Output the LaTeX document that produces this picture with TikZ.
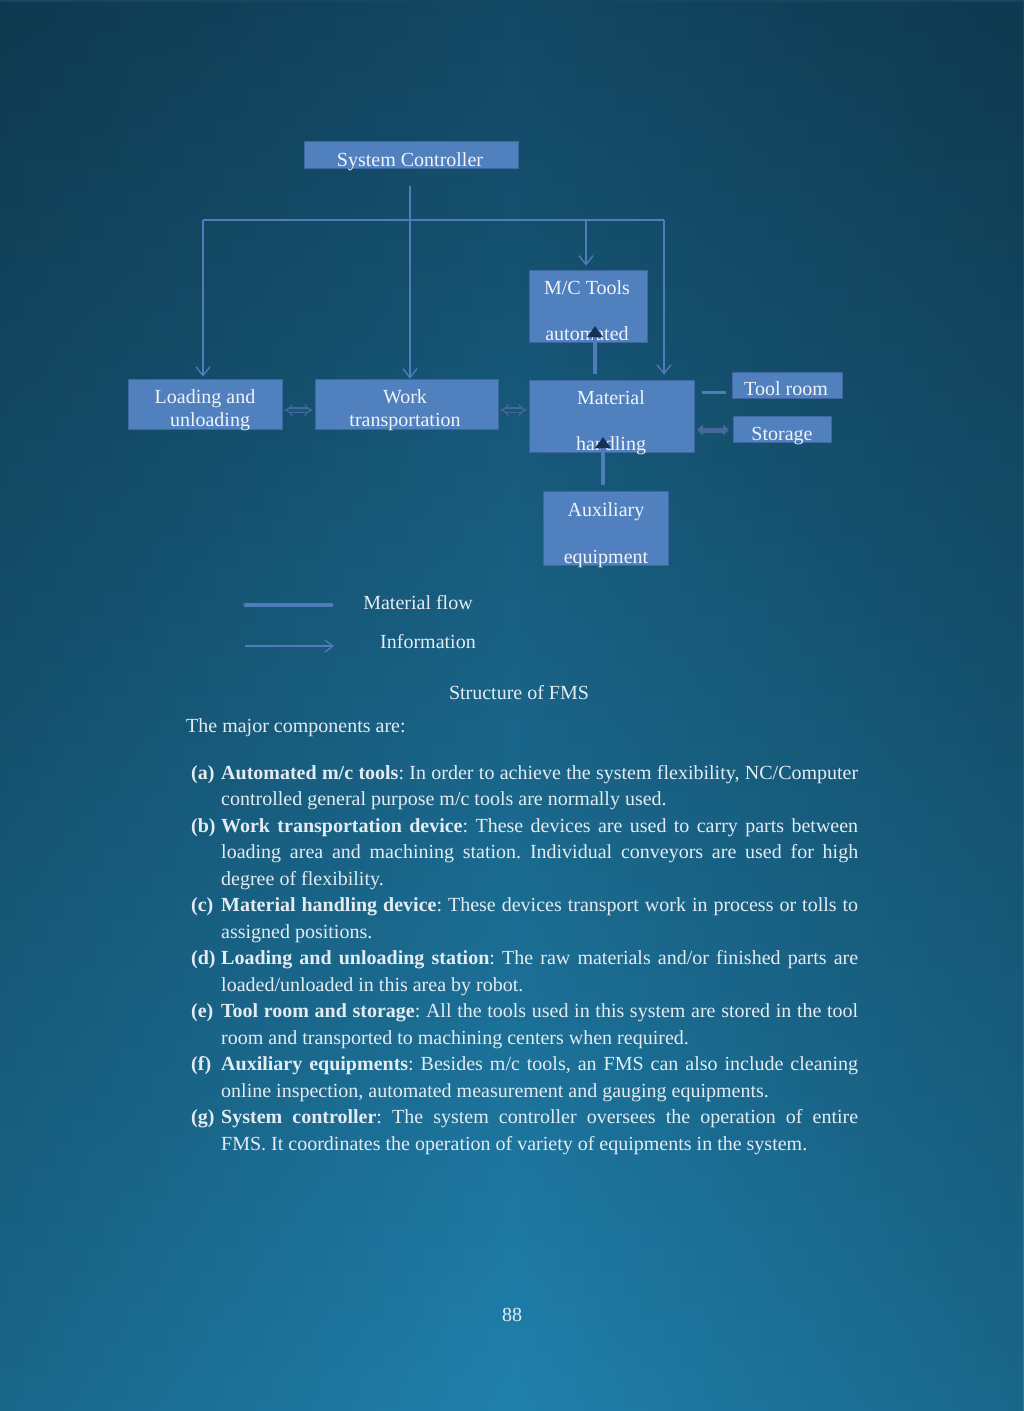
\documentclass[tikz,border=0pt]{standalone}
\usepackage{fontspec}
\setmainfont{Liberation Serif}
\frenchspacing
\usetikzlibrary{arrows.meta,fadings}
\definecolor{bgtop}{RGB}{19,72,100}
\definecolor{bgmid}{RGB}{22,88,122}
\definecolor{bgbot}{RGB}{32,128,172}
\definecolor{boxfill}{RGB}{80,128,190}
\definecolor{boxline}{RGB}{62,102,160}
\definecolor{conn}{RGB}{80,124,186}
\definecolor{txt}{RGB}{240,244,248}
\definecolor{bodytxt}{RGB}{228,236,242}
\definecolor{darktip}{RGB}{22,50,82}
\definecolor{flowc}{RGB}{66,104,156}
\tikzfading[name=sidefade, left color=transparent!0, right color=transparent!0, middle color=transparent!100]
\tikzset{
  box/.style={draw=boxline, line width=0.6pt, fill=boxfill, rectangle, inner sep=0pt},
  btext/.style={text=txt, font=\fontsize{20pt}{24pt}\selectfont, inner sep=0pt, anchor=mid, yshift=-5pt},
  body/.style={text=bodytxt, font=\fontsize{20pt}{26pt}\selectfont, inner sep=0pt, anchor=mid west, yshift=-5pt},
  info/.style={draw=conn, line width=1.3pt, -{Straight Barb[length=9pt,width=14pt,line width=1.3pt]}},
  bus/.style={draw=conn, line width=1.3pt},
  thickarrow/.style={draw=conn, line width=4pt, -{Triangle[length=11pt,width=15pt,color=darktip]}},
  hollowflow/.style={draw=flowc, line width=1.2pt, double=bgmid, double distance=3pt, {Implies}-{Implies}},
  solidflow/.style={draw=flowc, line width=5pt, {Triangle[length=6pt,width=11pt]}-{Triangle[length=6pt,width=11pt]}},
  plainflow/.style={draw=conn, line width=3pt},
  legendflow/.style={draw=conn, line width=3.5pt, {Triangle[length=3pt,width=5pt]}-{Triangle[length=3pt,width=5pt]}},
}
\begin{document}
\begin{tikzpicture}[x=1pt,y=-1pt]
% background
\begin{scope}[y=1pt]
  \shade[top color=bgtop, middle color=bgmid, bottom color=bgbot] (0,-1411) rectangle (1024,0);
  \fill[black, path fading=sidefade, fill opacity=0.2] (0,-1411) rectangle (1024,0);
\end{scope}
\useasboundingbox (0,0) rectangle (1024,1411);

% boxes
\node[box, minimum width=214pt, minimum height=27pt] (sc) at (411,154.5) {};
\node[box, minimum width=154pt, minimum height=50pt] (lu) at (205,404) {};
\node[box, minimum width=183pt, minimum height=50pt] (wt) at (406.5,404) {};
\node[box, minimum width=118pt, minimum height=72pt] (mc) at (588,306) {};
\node[box, minimum width=165pt, minimum height=72pt] (mh) at (611.5,416) {};
\node[box, minimum width=110pt, minimum height=26pt] (tr) at (787,385) {};
\node[box, minimum width=98pt, minimum height=26pt] (st) at (782,429) {};
\node[box, minimum width=125pt, minimum height=74pt] (ax) at (605.5,528) {};

% box texts
\node[btext] (sct) at (410,159) {System Controller};
\node[btext] (lut1) at (205,396) {Loading and};
\node[btext] (lut2) at (210,419) {unloading};
\node[btext] (wtt1) at (405,396) {Work};
\node[btext] (wtt2) at (405,419) {transportation};
\node[btext] (mct1) at (587,287) {M/C Tools};
\node[btext] (mct2) at (587,333) {automated};
\node[btext] (mht1) at (611,397) {Material};
\node[btext] (mht2) at (611,443) {handling};
\node[btext] (trt) at (786,388) {Tool room};
\node[btext] (stt) at (782,433) {Storage};
\node[btext] (axt1) at (606,509) {Auxiliary};
\node[btext] (axt2) at (606,556) {equipment};

% information lines
\coordinate (scout) at (410,186);
\coordinate (busL) at (203,220);
\coordinate (busM) at (586,220);
\coordinate (busR) at (664,220);
\draw[info] (scout) -- (scout |- wt.north);
\draw[bus] (busL) -- (busR);
\draw[info] (busL) -- ([yshift=2pt]busL |- lu.north);
\draw[info] (busM) -- ([yshift=4pt]busM |- mc.north);
\draw[info] (busR) -- ([yshift=5pt]busR |- mh.north);

% material flow
\draw[hollowflow] ([yshift=-6pt,xshift=2pt]lu.east) -- ([yshift=-6pt,xshift=-2pt]wt.west);
\draw[hollowflow] ([yshift=-6pt,xshift=2pt]wt.east) -- ([yshift=-6pt,xshift=-2pt]mh.west |- wt.east);
\coordinate (mhout) at (595,374);
\coordinate (mcin) at (595,326);
\draw[thickarrow] (mhout) -- (mcin);
\coordinate (axout) at (603,485);
\coordinate (mhin) at (603,437);
\draw[thickarrow] (axout) -- (mhin);
\coordinate (trL) at (702,392);
\coordinate (trR) at (726,392);
\draw[plainflow] (trL) -- (trR);
\coordinate (stL) at (697,430);
\coordinate (stR) at (729,430);
\draw[solidflow] (stL) -- (stR);

% legend
\coordinate (lg1a) at (243,605);
\coordinate (lg1b) at (334,605);
\draw[legendflow] (lg1a) -- (lg1b);
\node[btext, text=bodytxt] (lgt1) at (418,602) {Material flow};
\coordinate (lg2a) at (245,646);
\coordinate (lg2b) at (334,646);
\draw[info, -{Straight Barb[length=8pt,width=12pt,line width=1.3pt]}] (lg2a) -- (lg2b);
\node[btext, text=bodytxt] (lgt2) at (428,641) {Information};

% caption and text
\node[btext, text=bodytxt] (cap) at (519,692) {Structure of FMS};
\node[body] (intro) at (186,725) {The major components are:};

\node[body] (la) at (191,772) {\textbf{(a)}};
\node[body] (a1) at (221,772) {\makebox[637pt][s]{\textbf{Automated m/c tools}: In order to achieve the system flexibility, NC/Computer}};
\node[body] (a2) at (221,798.5) {controlled general purpose m/c tools are normally used.};

\node[body] (lb) at (191,825) {\textbf{(b)}};
\node[body] (b1) at (221,825) {\makebox[637pt][s]{\textbf{Work transportation device}: These devices are used to carry parts between}};
\node[body] (b2) at (221,851.5) {\makebox[637pt][s]{loading area and machining station. Individual conveyors are used for high}};
\node[body] (b3) at (221,878) {degree of flexibility.};

\node[body] (lc) at (191,904.5) {\textbf{(c)}};
\node[body] (c1) at (221,904.5) {\makebox[637pt][s]{\textbf{Material handling device}: These devices transport work in process or tolls to}};
\node[body] (c2) at (221,931) {assigned positions.};

\node[body] (ld) at (191,957.5) {\textbf{(d)}};
\node[body] (d1) at (221,957.5) {\makebox[637pt][s]{\textbf{Loading and unloading station}: The raw materials and/or finished parts are}};
\node[body] (d2) at (221,984) {loaded/unloaded in this area by robot.};

\node[body] (le) at (191,1010.5) {\textbf{(e)}};
\node[body] (e1) at (221,1010.5) {\makebox[637pt][s]{\textbf{Tool room and storage}: All the tools used in this system are stored in the tool}};
\node[body] (e2) at (221,1037) {room and transported to machining centers when required.};

\node[body] (lf) at (191,1063.5) {\textbf{(f)}};
\node[body] (f1) at (221,1063.5) {\makebox[637pt][s]{\textbf{Auxiliary equipments}: Besides m/c tools, an FMS can also include cleaning}};
\node[body] (f2) at (221,1090) {online inspection, automated measurement and gauging equipments.};

\node[body] (lg) at (191,1116.5) {\textbf{(g)}};
\node[body] (g1) at (221,1116.5) {\makebox[637pt][s]{\textbf{System controller}: The system controller oversees the operation of entire}};
\node[body] (g2) at (221,1143) {FMS. It coordinates the operation of variety of equipments in the system.};

\node[btext, text=bodytxt] (pg) at (512,1314) {88};
\end{tikzpicture}
\end{document}
